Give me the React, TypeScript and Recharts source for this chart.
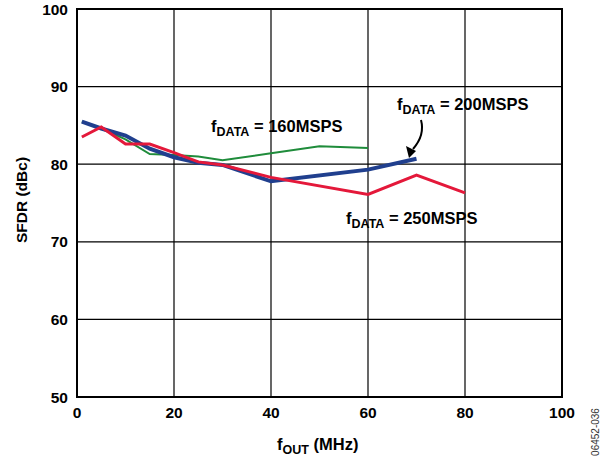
import { LineChart, Line, XAxis, YAxis, CartesianGrid, ReferenceArea } from "recharts"

const xTicks = [0, 20, 40, 60, 80, 100]
const yTicks = [50, 60, 70, 80, 90, 100]

// f_DATA = 160MSPS
const fout160 = [1, 5, 10, 15, 20, 25, 30, 40, 50, 60]
const sfdr160 = [85.5, 84.6, 83.2, 81.3, 81.2, 81.0, 80.5, 81.4, 82.3, 82.1]

// f_DATA = 200MSPS
const fout200 = [1, 5, 10, 15, 20, 25, 30, 40, 60, 70]
const sfdr200 = [85.5, 84.6, 83.7, 82.0, 80.9, 80.2, 79.9, 77.8, 79.3, 80.7]

// f_DATA = 250MSPS
const fout250 = [1, 5, 10, 15, 20, 25, 30, 40, 60, 70, 80]
const sfdr250 = [83.5, 84.8, 82.6, 82.6, 81.5, 80.3, 79.9, 78.3, 76.1, 78.6, 76.3]

const toPoints = (xs: number[], ys: number[]) => xs.map((x, i) => ({ x, y: ys[i] }))

const FONT = "Arial, 'Liberation Sans', sans-serif"

const tickStyle = { fontSize: 15.5, fontWeight: 700, fill: "#000", fontFamily: FONT }

function SubLabel({ x, y, sub, rest }: { x: number; y: number; sub: string; rest: string }) {
  return (
    <text x={x} y={y} fontFamily={FONT} fontWeight={700} fontSize={16.5} fill="#000">
      <tspan>f</tspan>
      <tspan fontSize={12.5} dy={4}>{sub}</tspan>
      <tspan dy={-4}>{rest}</tspan>
    </text>
  )
}

export default function App() {
  return (
    <div style={{ position: "absolute", left: 0, top: 0, width: 612, height: 461, background: "#fff" }}>
      <LineChart width={612} height={461} margin={{ top: 9, right: 50, bottom: 0, left: 0 }}>
        <CartesianGrid stroke="#000" strokeWidth={1.2} horizontalValues={yTicks} verticalValues={xTicks} />
        <XAxis
          type="number"
          dataKey="x"
          domain={[0, 100]}
          ticks={xTicks}
          height={64}
          tickLine={false}
          axisLine={false}
          tickSize={6}
          tickMargin={4}
          tick={tickStyle}
          allowDuplicatedCategory={false}
        />
        <YAxis
          type="number"
          domain={[50, 100]}
          ticks={yTicks}
          width={77}
          tickLine={false}
          axisLine={false}
          tickMargin={3}
          tick={tickStyle}
        />
        <ReferenceArea x1={0} x2={100} y1={50} y2={100} fill="none" stroke="#000" strokeWidth={2} ifOverflow="visible" />
        <Line
          data={toPoints(fout160, sfdr160)}
          dataKey="y"
          stroke="#1f8c3b"
          strokeWidth={2}
          dot={false}
          isAnimationActive={false}
        />
        <Line
          data={toPoints(fout200, sfdr200)}
          dataKey="y"
          stroke="#203f8e"
          strokeWidth={4}
          dot={false}
          isAnimationActive={false}
        />
        <Line
          data={toPoints(fout250, sfdr250)}
          dataKey="y"
          stroke="#e4183a"
          strokeWidth={3}
          dot={false}
          isAnimationActive={false}
        />
      </LineChart>
      <svg width={612} height={461} style={{ position: "absolute", left: 0, top: 0, pointerEvents: "none" }}>
        <SubLabel x={211} y={132} sub="DATA" rest=" = 160MSPS" />
        <SubLabel x={397} y={110} sub="DATA" rest=" = 200MSPS" />
        <SubLabel x={346} y={224} sub="DATA" rest=" = 250MSPS" />
        <path d="M421,120 C424,131 420,141 413,149" fill="none" stroke="#000" strokeWidth={2} />
        <path d="M409,158 L406,146 L416,151 Z" fill="#000" />
        <text x={277} y={450} fontFamily={FONT} fontWeight={700} fontSize={16.5} fill="#000">
          <tspan>f</tspan>
          <tspan fontSize={12.5} dy={4}>OUT</tspan>
          <tspan dy={-4}> (MHz)</tspan>
        </text>
        <text
          x={0}
          y={0}
          transform="translate(27,200) rotate(-90)"
          textAnchor="middle"
          fontFamily={FONT}
          fontWeight={700}
          fontSize={15.5}
          fill="#000"
        >
          SFDR (dBc)
        </text>
        <text
          x={0}
          y={0}
          transform="translate(599,432) rotate(-90)"
          textAnchor="middle"
          fontFamily={FONT}
          fontSize={10}
          fill="#333"
        >
          06452-036
        </text>
      </svg>
    </div>
  )
}
